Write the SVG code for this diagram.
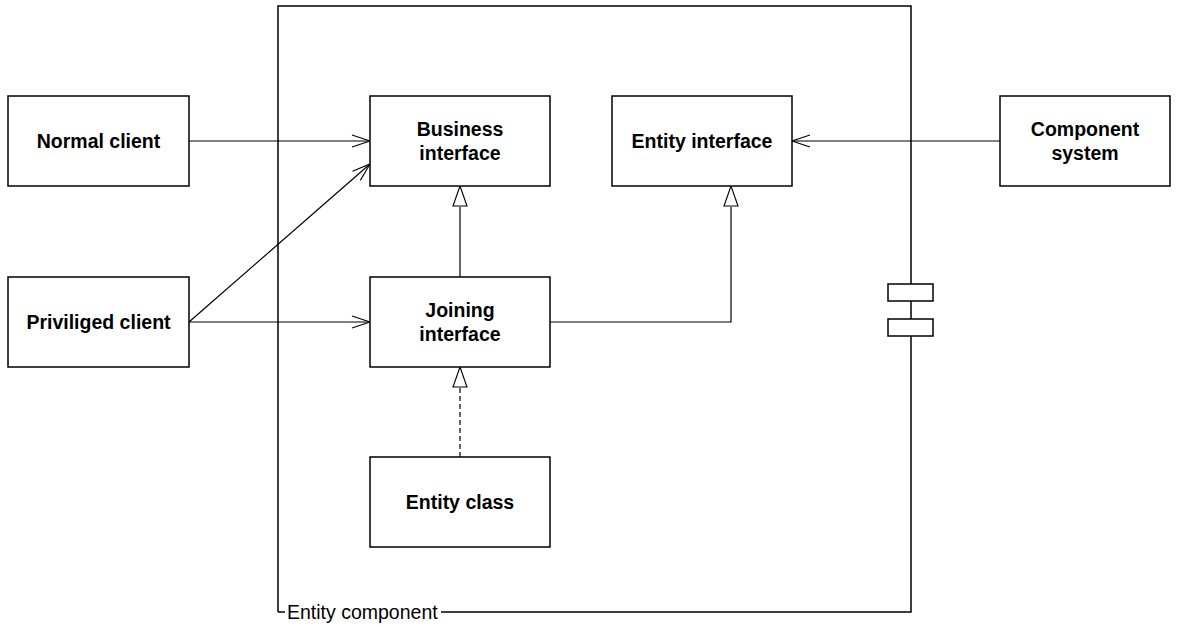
<svg xmlns="http://www.w3.org/2000/svg" width="1178" height="625" viewBox="0 0 1178 625">
<style>
.box{fill:#fff;stroke:#000;stroke-width:1.5}
.t{font-family:"Liberation Sans",Arial,sans-serif;font-size:19.5px;font-weight:bold;text-anchor:middle;fill:#000}
.c{fill:none;stroke:#000;stroke-width:1.2}
.frame{fill:none;stroke:#000;stroke-width:1.5}
</style>
<defs>
<marker id="open" markerWidth="20" markerHeight="14" refX="19" refY="7" orient="auto" markerUnits="userSpaceOnUse">
<path d="M1,1 L19,7 L1,13" fill="none" stroke="#000" stroke-width="1.1"/>
</marker>
</defs>
<g id="entity-component">
<path class="frame" d="M278,612 L278,6 L911,6 L911,612 L441,612"/>
<path class="frame" d="M278,612 L285,612"/>
<text x="287" y="619" font-family="'Liberation Sans',Arial,sans-serif" font-size="19.5">Entity component</text>
<rect class="box" x="888" y="284" width="45" height="17"/>
<rect class="box" x="888" y="319" width="45" height="17"/>
</g>
<g id="connectors">
<line class="c" x1="189" y1="141" x2="370" y2="141" marker-end="url(#open)"/>
<line class="c" x1="189" y1="322" x2="370" y2="164" marker-end="url(#open)"/>
<line class="c" x1="189" y1="322" x2="370" y2="322" marker-end="url(#open)"/>
<line class="c" x1="1000" y1="141" x2="792" y2="141" marker-end="url(#open)"/>
<path class="c" d="M460,277 L460,207"/>
<polygon points="460,186 467,206 453,206" fill="#fff" stroke="#000" stroke-width="1.1"/>
<path class="c" d="M550,322 L731,322 L731,207"/>
<polygon points="731,186 738,206 724,206" fill="#fff" stroke="#000" stroke-width="1.1"/>
<path class="c" d="M460,457 L460,388" stroke-dasharray="5,3" stroke="#555"/>
<polygon points="460,367 467,387 453,387" fill="#fff" stroke="#000" stroke-width="1.1"/>
</g>
<g id="normal-client">
<rect class="box" x="8" y="96" width="181" height="90"/>
<text class="t" x="98.5" y="148">Normal client</text>
</g>
<g id="priviliged-client">
<rect class="box" x="8" y="277" width="181" height="90"/>
<text class="t" x="98.5" y="329">Priviliged client</text>
</g>
<g id="business-interface">
<rect class="box" x="370" y="96" width="180" height="90"/>
<text class="t" x="460" y="136">Business</text>
<text class="t" x="460" y="160">interface</text>
</g>
<g id="entity-interface">
<rect class="box" x="612" y="96" width="180" height="90"/>
<text class="t" x="702" y="148">Entity interface</text>
</g>
<g id="component-system">
<rect class="box" x="1000" y="96" width="170" height="90"/>
<text class="t" x="1085" y="136">Component</text>
<text class="t" x="1085" y="160">system</text>
</g>
<g id="joining-interface">
<rect class="box" x="370" y="277" width="180" height="90"/>
<text class="t" x="460" y="317">Joining</text>
<text class="t" x="460" y="341">interface</text>
</g>
<g id="entity-class">
<rect class="box" x="370" y="457" width="180" height="90"/>
<text class="t" x="460" y="509">Entity class</text>
</g>
</svg>
